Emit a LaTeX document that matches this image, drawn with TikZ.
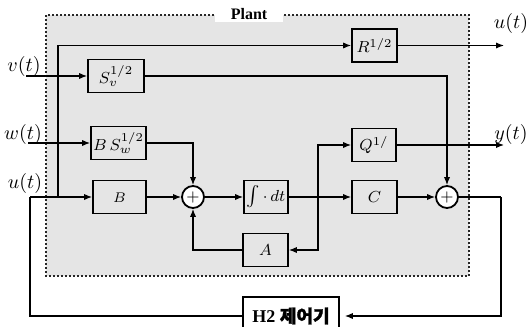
\documentclass[tikz,border=0pt]{standalone}
\usepackage{fontspec}
\setmainfont{Liberation Serif}
\newfontfamily\kr{Noto Sans CJK KR}[FakeBold=1.5]
\usepackage{tikz}
\usetikzlibrary{arrows.meta}
\tikzset{
  pfeil/.style={-{Latex[length=1.4mm,width=1.1mm]},line width=0.6pt},
  linie/.style={line width=0.6pt},
  block/.style={draw,line width=0.9pt,minimum height=16.5pt,inner sep=1pt,font=\footnotesize},
  summe/.style={draw,circle,line width=0.9pt,minimum size=11pt,inner sep=0pt,fill=white,font=\footnotesize},
  anlage/.style={fill=black!10,draw=black!85,densely dotted,line width=1pt},
  signal/.style={inner sep=0pt},
}

\begin{document}
\begin{tikzpicture}[x=0.5pt,y=-0.5pt]
  \useasboundingbox (0,0) rectangle (528,326);
  \draw[anlage] (46,15) rectangle (469,276);
  \node[fill=white,inner xsep=8pt,inner ysep=1pt,font=\footnotesize\bfseries] (plant) at (249,14) {Plant};

  \node[block,minimum width=22.5pt] (r) at (374.5,45.5) {$R^{1/2}$};
  \node[block,minimum width=28pt] (sv) at (116,76) {$S_v^{1/2}$};
  \node[block,minimum width=27.5pt] (bw) at (118.5,143) {$B\,S_w^{1/2}$};
  \node[block,minimum width=26.5pt,font=\scriptsize] (b) at (119.5,197) {\raisebox{-5pt}{$B$}};
  \node[summe] (s1) at (193,197) {$+$};
  \node[block,minimum width=22pt] (int) at (266,197) {$\int\cdot\,dt$};
  \node[block,minimum width=22.5pt] (a) at (265.5,250) {$A$};
  \node[block,minimum width=22pt] (q) at (374,145) {$Q^{1/}$};
  \node[block,minimum width=22.5pt] (c) at (374.5,197) {$C$};
  \node[summe] (s2) at (447,197) {$+$};
  \node[draw,line width=0.9pt,minimum width=48pt,minimum height=19pt,font=\small\bfseries] (h2) at (291,316) {H2 {\kr 제어기}};

  \node[signal] (lv) at (24,66) {$v(t)$};
  \node[signal] (lw) at (23,134) {$w(t)$};
  \node[signal] (lu) at (25,183) {$u(t)$};
  \node[signal] (luo) at (511,24) {$u(t)$};
  \node[signal] (ly) at (511,134) {$y(t)$};

  \coordinate (vin) at (26,76);
  \coordinate (win) at (28,143);
  \coordinate (ul) at (30,197);
  \coordinate (uk) at (58,197);
  \coordinate (uout) at (504,45.5);
  \coordinate (yout) at (504,145);
  \coordinate (br) at (318,197);
  \coordinate (rr) at (501,197);

  \draw[pfeil] (vin) -- (sv.west);
  \draw[pfeil] (win) -- (bw.west);
  \draw[linie] (h2.west) -| (ul);
  \draw[pfeil] (ul) -- (b.west);
  \draw[pfeil] (uk) |- (r.west);
  \draw[pfeil] (r.east) -- (uout);
  \draw[pfeil] (sv.east) -| (s2.north);
  \draw[pfeil] (bw.east) -| (s1.north);
  \draw[pfeil] (b.east) -- (s1.west);
  \draw[pfeil] (s1.east) -- (int.west);
  \draw[pfeil] (int.east) -- (c.west);
  \draw[pfeil] (br) |- (q.west);
  \draw[pfeil] (br) |- (a.east);
  \draw[pfeil] (a.west) -| (s1.south);
  \draw[pfeil] (q.east) -- (yout);
  \draw[pfeil] (c.east) -- (s2.west);
  \draw[linie] (s2.east) -- (rr);
  \draw[pfeil,shorten >=2.5pt] (rr) |- (h2.east);
\end{tikzpicture}
\end{document}
